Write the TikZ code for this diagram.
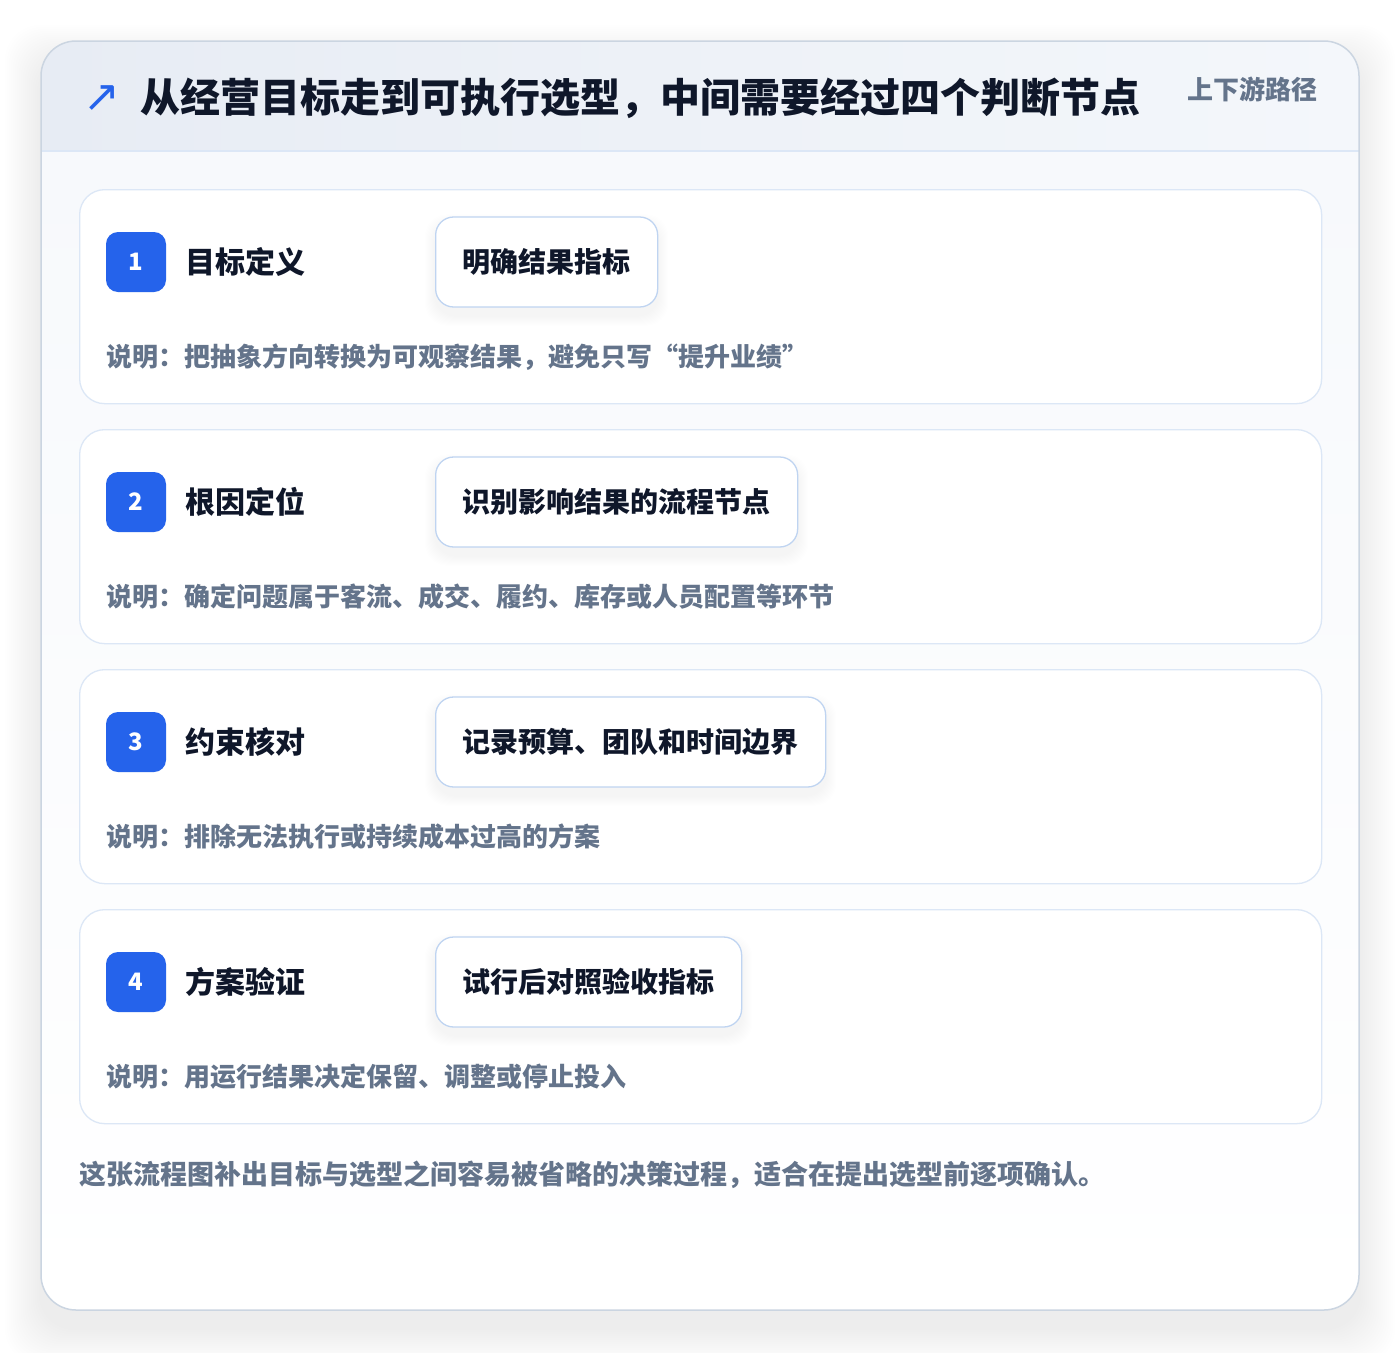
\documentclass[tikz,border=0pt]{standalone}
\usepackage{fontspec}
\setmainfont{Noto Sans CJK SC}
\newfontfamily\symfont{DejaVu Sans}
\usetikzlibrary{positioning}

\definecolor{brandblue}{HTML}{2563EB}
\definecolor{inkdark}{HTML}{0F172A}
\definecolor{inkgray}{HTML}{64748B}
\definecolor{cardline}{HTML}{DCE7F6}
\definecolor{pillline}{HTML}{BFD4F1}
\definecolor{frameline}{HTML}{CBD5E1}
\definecolor{headleft}{HTML}{E7ECF4}
\definecolor{headright}{HTML}{F4F7FB}
\definecolor{bodytop}{HTML}{F7F9FC}

\def\fs#1{\fontsize{#1}{#1}\selectfont}

\pgfdeclarelayer{bg}
\pgfdeclarelayer{panel}
\pgfdeclarelayer{shade}
\pgfsetlayers{bg,panel,shade,main}

% one row: number, top edge, title, box text, note
\def\stepcard#1#2#3#4#5{
	\begin{pgfonlayer}{panel}
		\node [card] (card#1) at (79,#2) {};
	\end{pgfonlayer}
	\node [badge] (badge#1) at (136,#2+73) {#1};
	\node [steptitle, right=19pt of badge#1] (title#1) {#3};
	\node [pill] (pill#1) at (435,#2+73) {#4};
	\node [note] (note#1) at (106,#2+168) {#5};
	\begin{pgfonlayer}{shade}
		\foreach \k in {1,...,10}
			\fill [black, opacity=0.004, rounded corners=22pt]
				([xshift=-\k pt, yshift=-8pt-\k pt]pill#1.south west)
				rectangle ([xshift=\k pt, yshift=-8pt+\k pt]pill#1.north east);
	\end{pgfonlayer}
}

\begin{document}
\begin{tikzpicture}[x=1pt, y=-1pt, font=\bfseries]
	\tikzstyle{card}=[draw=cardline, line width=1.3pt, fill=white,
		rounded corners=25pt, minimum width=1242pt, minimum height=214pt,
		anchor=north west, inner sep=0pt]
	\tikzstyle{badge}=[fill=brandblue, text=white, rounded corners=12pt,
		minimum size=60pt, inner sep=0pt, font=\bfseries\fs{24}]
	\tikzstyle{steptitle}=[inner sep=0pt, text=inkdark, font=\bfseries\fs{30}]
	\tikzstyle{pill}=[draw=pillline, line width=1.3pt, fill=white,
		rounded corners=18pt, minimum height=90pt, inner xsep=27pt,
		anchor=west, text=inkdark, font=\bfseries\fs{28}]
	\tikzstyle{note}=[inner sep=0pt, anchor=west, text=inkgray,
		font=\bfseries\fs{26}]

	\useasboundingbox (0,0) rectangle (1400,1352);

	% frame with its soft shadow
	\begin{pgfonlayer}{bg}
		\fill [white] (0,0) rectangle (1400,1352);
		\foreach \k in {1,...,18}
			\fill [black, opacity=0.0045, rounded corners=35pt]
				(41-2*\k,61-2*\k) rectangle (1359+2*\k,1328+2*\k);
		\begin{scope}
			\clip [rounded corners=35pt] (41,41) rectangle (1359,1310);
			\shade [top color=bodytop, bottom color=white] (41,151) rectangle (1359,1310);
			\shade [left color=headleft, right color=headright] (41,41) rectangle (1359,151);
		\end{scope}
		\draw [cardline, line width=1.3pt] (41,151) -- (1359,151);
		\draw [frameline, line width=1.5pt, rounded corners=35pt] (41,41) rectangle (1359,1310);
	\end{pgfonlayer}

	\node [inner sep=0pt, text=brandblue, font=\symfont\fs{44}] (icon) at (102,99) {↗};
	\node [inner sep=0pt, anchor=west, text=inkdark, font=\bfseries\fs{40}] (headline)
		at (140,98) {从经营目标走到可执行选型，中间需要经过四个判断节点};
	\node [inner sep=0pt, anchor=east, text=inkgray, font=\bfseries\fs{26}] (tag)
		at (1318,89) {上下游路径};

	\stepcard{1}{189}{目标定义}{明确结果指标}{说明：把抽象方向转换为可观察结果，避免只写“提升业绩”}
	\stepcard{2}{429}{根因定位}{识别影响结果的流程节点}{说明：确定问题属于客流、成交、履约、库存或人员配置等环节}
	\stepcard{3}{669}{约束核对}{记录预算、团队和时间边界}{说明：排除无法执行或持续成本过高的方案}
	\stepcard{4}{909}{方案验证}{试行后对照验收指标}{说明：用运行结果决定保留、调整或停止投入}

	\node [note, font=\bfseries\fs{27}] (summary) at (79,1175)
		{这张流程图补出目标与选型之间容易被省略的决策过程，适合在提出选型前逐项确认。};
\end{tikzpicture}
\end{document}
